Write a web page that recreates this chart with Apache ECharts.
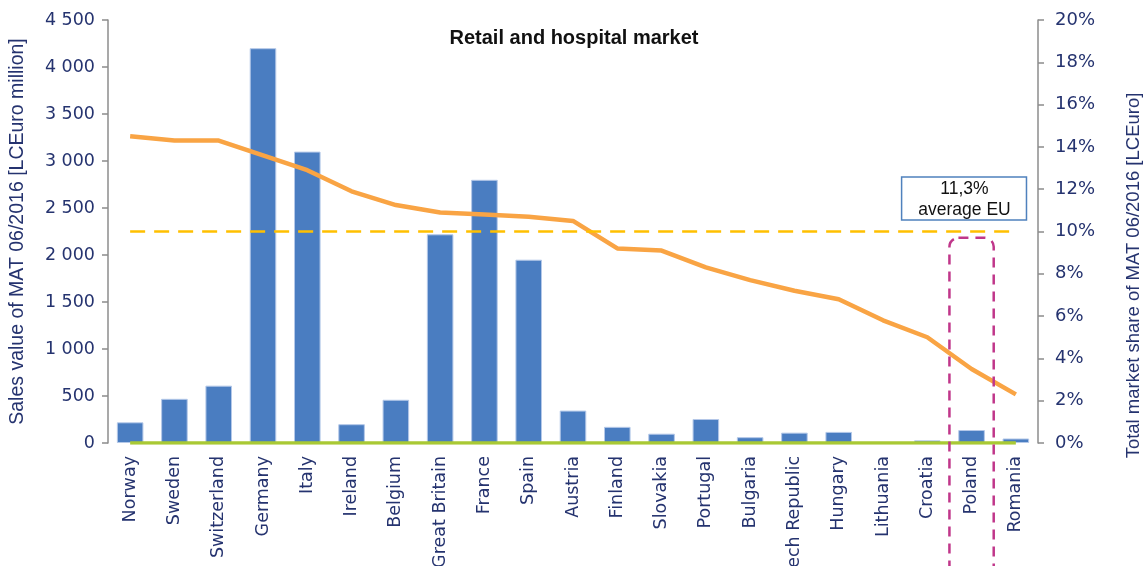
<!DOCTYPE html>
<html><head><meta charset="utf-8">
<script src="https://cdn.jsdelivr.net/npm/echarts@6/dist/echarts.min.js"></script>
<style>html,body{margin:0;padding:0;background:#fff}#c{width:1148px;height:566px}</style>
</head><body><div id="c"></div>
<script>
const categories = ['Norway','Sweden','Switzerland','Germany','Italy','Ireland','Belgium','Great Britain','France','Spain','Austria','Finland','Slovakia','Portugal','Bulgaria','Czech Republic','Hungary','Lithuania','Croatia','Poland','Romania'];
const salesValues = [220, 470, 610, 4200, 3100, 200, 460, 2220, 2800, 1950, 345, 172, 99, 255, 62, 110, 118, 3, 28, 138, 48];
const marketShare = [14.5, 14.3, 14.3, 13.6, 12.9, 11.9, 11.25, 10.9, 10.8, 10.7, 10.5, 9.2, 9.1, 8.3, 7.7, 7.2, 6.8, 5.8, 5.0, 3.5, 2.3];
const baselineValues = [0,0,0,0,0,0,0,0,0,0,0,0,0,0,0,0,0,0,0,0,0];
const averageLevel = 10;
const highlightedCountry = 'Poland';
const annotationLines = ['11,3%', 'average EU'];
const titleText = 'Retail and hospital market';
const leftAxisName = 'Sales value of MAT 06/2016 [LCEuro million]';
const rightAxisName = 'Total market share of MAT 06/2016 [LCEuro]';

const navy = '#25336f';
const chart = echarts.init(document.getElementById('c'));
const option = {
  animation: false,
  backgroundColor: '#fff',
  title: { text: titleText, left: 'center', top: 23,
    textStyle: { fontFamily: 'Liberation Sans', fontWeight: 'bold', fontSize: 20, color: '#111' } },
  grid: { left: 108, right: 110, top: 20, bottom: 123, containLabel: false, outerBoundsMode: 'none' },
  xAxis: {
    type: 'category', data: categories,
    axisLine: { show: false }, axisTick: { show: false },
    axisLabel: { rotate: 90, margin: 13, interval: 0, color: navy, fontFamily: 'DejaVu Sans', fontSize: 17.5 }
  },
  yAxis: [
    { type: 'value', min: 0, max: 4500, interval: 500,
      name: leftAxisName, nameLocation: 'middle', nameGap: 80, nameRotate: 90,
      nameTextStyle: { color: navy, fontFamily: 'Liberation Sans', fontSize: 19.5 },
      axisLine: { show: true, lineStyle: { color: '#8c8c8c', width: 1.5 } },
      axisTick: { show: true, inside: false, length: 6, lineStyle: { color: '#8c8c8c', width: 1.5 } },
      splitLine: { show: false },
      axisLabel: { margin: 13, color: navy, fontFamily: 'DejaVu Sans', fontSize: 17.5,
        formatter: v => String(v).replace(/\B(?=(\d{3})+(?!\d))/g, ' ') } },
    { type: 'value', min: 0, max: 20, interval: 2, position: 'right',
      name: rightAxisName, nameLocation: 'middle', nameGap: 86, nameRotate: 90,
      nameTextStyle: { color: navy, fontFamily: 'Liberation Sans', fontSize: 18.5, padding: [0, 88, 0, 0] },
      axisLine: { show: true, lineStyle: { color: '#8c8c8c', width: 1.5 } },
      axisTick: { show: true, inside: false, length: 6, lineStyle: { color: '#8c8c8c', width: 1.5 } },
      splitLine: { show: false },
      axisLabel: { margin: 17, color: navy, fontFamily: 'DejaVu Sans', fontSize: 18, formatter: '{value}%' } }
  ],
  series: [
    { name: 'Sales', type: 'bar', data: salesValues, yAxisIndex: 0, barCategoryGap: '40%',
      itemStyle: { color: '#4a7dc1', borderColor: '#b4c8e8', borderWidth: 1 }, z: 2 },
    { name: 'Share', type: 'line', data: marketShare, yAxisIndex: 1, symbol: 'none',
      lineStyle: { color: '#f9a444', width: 4.5 }, z: 4,
      markLine: { silent: true, symbol: 'none', label: { show: false },
        lineStyle: { color: '#ffc000', type: [15, 9], width: 2.5 },
        data: [[{ xAxis: 0, yAxis: averageLevel }, { xAxis: categories.length - 1, yAxis: averageLevel }]] } },
    { name: 'Base', type: 'line', data: baselineValues, yAxisIndex: 1, symbol: 'none',
      lineStyle: { color: '#a9c934', width: 3.5 }, z: 3 }
  ]
};
chart.setOption(option);

const idx = categories.indexOf(highlightedCountry);
const px = chart.convertToPixel({ xAxisIndex: 0 }, idx);
const catW = chart.convertToPixel({ xAxisIndex: 0 }, idx + 1) - px;
const yTopBox = chart.convertToPixel({ yAxisIndex: 1 }, 9.7);
const boxTop = chart.convertToPixel({ yAxisIndex: 1 }, 12.58);
const boxBottom = chart.convertToPixel({ yAxisIndex: 1 }, 10.54);
const textMid = chart.convertToPixel({ yAxisIndex: 1 }, 11.5);
chart.setOption({
  graphic: [
    { type: 'rect', z: 100,
      shape: { x: px - catW * 0.5, y: yTopBox, width: catW, height: 600, r: 9 },
      style: { fill: 'none', stroke: '#c0368a', lineWidth: 2.5, lineDash: [10, 7] } },
    { type: 'rect', z: 100,
      shape: { x: px - catW * 1.58, y: boxTop, width: catW * 2.82, height: boxBottom - boxTop },
      style: { fill: '#fff', stroke: '#4f81bd', lineWidth: 1.5 } },
    { type: 'text', z: 101, x: px - catW * 0.16, y: textMid,
      style: { text: annotationLines.join('\n'), align: 'center', verticalAlign: 'middle',
        fontFamily: 'Liberation Sans', fontSize: 17.5, lineHeight: 21, fill: '#111' } }
  ]
});
</script></body></html>
